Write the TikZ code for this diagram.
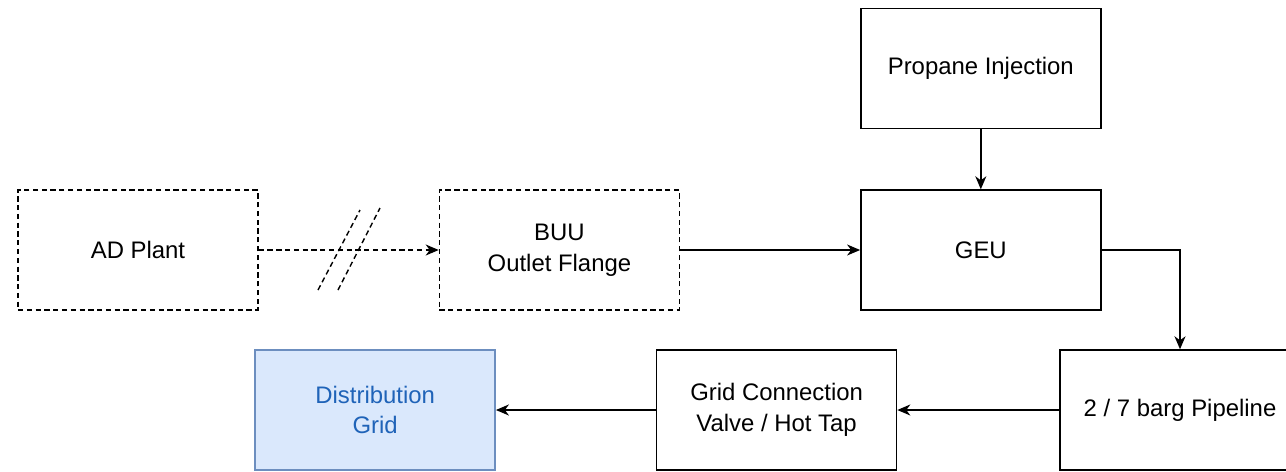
\documentclass[tikz,border=0pt]{standalone}
\usepackage{fontspec}
\setmainfont{Liberation Sans}
\usepackage{xcolor}
\usepackage{tikz}
\usetikzlibrary{arrows.meta,positioning,calc}
\definecolor{gridfill}{HTML}{DAE8FC}
\definecolor{gridline}{HTML}{6C8EBF}
\definecolor{gridtext}{HTML}{1F63B8}

\begin{document}
\begin{tikzpicture}[
  unit/.style={rectangle,draw=black,line width=0.8pt,minimum width=4.8cm,minimum height=2.4cm,align=center,font=\fontsize{13.6}{17.5}\selectfont},
  offsite/.style={unit,dash pattern=on 3pt off 2pt},
  target/.style={unit,draw=gridline,fill=gridfill,text=gridtext},
  arr/.style={-{Stealth[length=2.6mm,width=2.2mm,inset=0.8mm]},line width=0.8pt},
  brk/.style={line width=0.8pt,dash pattern=on 3pt off 2pt},
  node distance=3.6cm
]
\useasboundingbox (0,0) rectangle (25.72,-9.44);
\node[offsite] (adplant) at (2.76,-5.0) {AD Plant};
\node[offsite,right=of adplant] (buu) {BUU\\Outlet Flange};
\node[unit,right=of buu] (geu) {GEU};
\node[unit,above=1.2cm of geu] (propane) {Propane Injection};
% pipeline box runs off the right edge
\node[unit,minimum width=5.2cm] (pipe) at (23.8,-8.2) {2 / 7 barg Pipeline\hspace*{0.4cm}};
\node[unit,left=3.24cm of pipe] (gridconn) {Grid Connection\\Valve / Hot Tap};
\node[target,left=3.2cm of gridconn] (distgrid) {Distribution\\Grid};
% break marks on the off-site link
\coordinate (cut1a) at (6.36,-5.8); \coordinate (cut1b) at (7.2,-4.2);
\coordinate (cut2a) at (6.76,-5.8); \coordinate (cut2b) at (7.6,-4.16);
\draw[brk] (cut1a)--(cut1b); \draw[brk] (cut2a)--(cut2b);
\draw[arr,brk] (adplant)--(buu);
\draw[arr] (buu)--(geu); \draw[arr] (propane)--(geu);
\draw[arr] (geu.east)-|([xshift=-0.2cm]pipe.north);
\draw[arr] (pipe)--(gridconn); \draw[arr] (gridconn)--(distgrid);
\end{tikzpicture}
\end{document}
